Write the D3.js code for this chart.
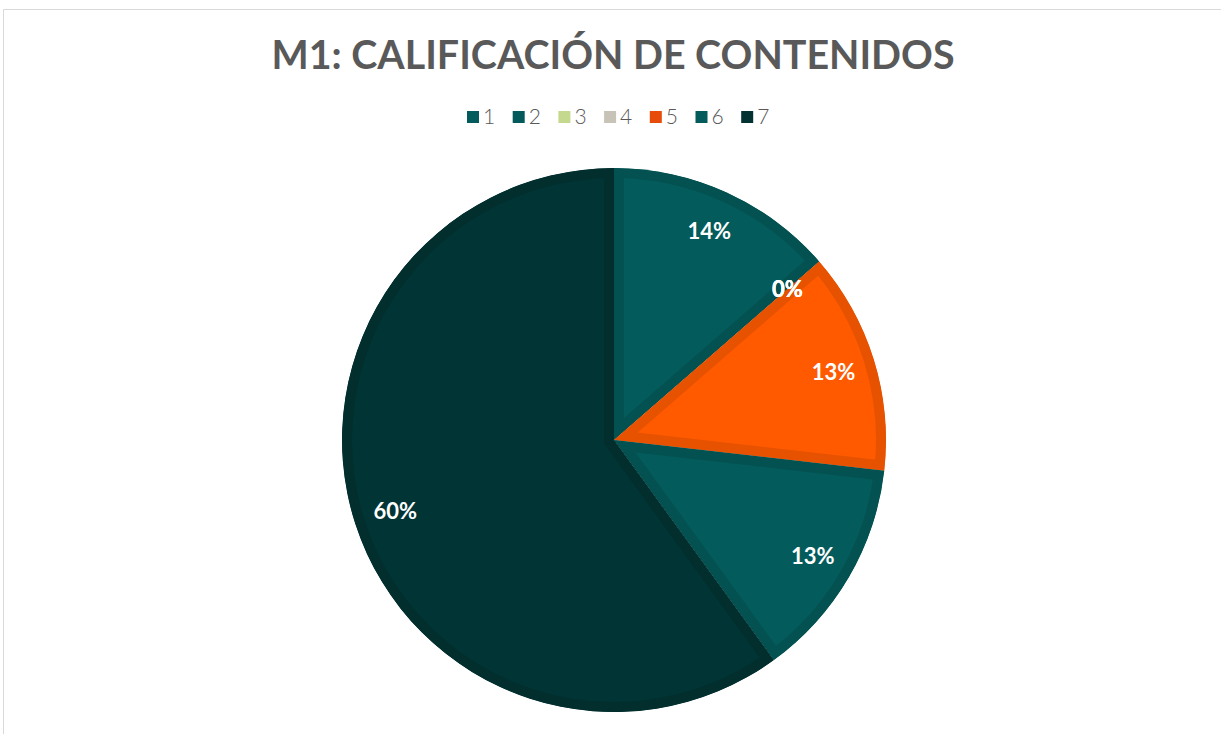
<!DOCTYPE html>
<html>
<head>
<meta charset="utf-8">
<script src="https://cdn.jsdelivr.net/npm/d3@7"></script>
<style>
  body { margin: 0; background: #fff; }
</style>
</head>
<body>
<div id="content"></div>
<script>
// datos
var categorias = ["1", "2", "3", "4", "5", "6", "7"];
var porcentajes = [13.6, 0, 0, 0, 13.2, 13.2, 60.0];
var etiquetas = ["14%", "0%", "0%", "0%", "13%", "13%", "60%"];
var titulo = "M1: CALIFICACIÓN DE CONTENIDOS";

var colores = ["#035b5b", "#045a5a", "#c5d98e", "#c8c3b7", "#ff5a00", "#035b5b", "#013434"];
var bordes = ["#045151", "#045151", "#b5c87f", "#b8b3a7", "#e65200", "#045151", "#022e2e"];
var coloresLeyenda = ["#035b5b", "#045a5a", "#c5d98e", "#c8c3b7", "#e84c0b", "#035b5b", "#023232"];

// dimensiones
var width = 1221;
var height = 734;
var cx = 614, cy = 440, radio = 272;

var svg = d3.select("#content")
  .append("svg")
  .attr("width", width)
  .attr("height", height);

// marco
svg.append("path")
  .attr("d", "M3.5," + height + "V9.5H" + width)
  .attr("fill", "none")
  .attr("stroke", "#d9d9d9")
  .attr("stroke-width", 1);

// titulo
svg.append("text")
  .attr("x", 613)
  .attr("y", 69)
  .attr("text-anchor", "middle")
  .attr("textLength", 683)
  .attr("lengthAdjust", "spacingAndGlyphs")
  .style("font-family", "Lato, sans-serif")
  .style("font-weight", "bold")
  .style("font-size", "41px")
  .style("fill", "#595959")
  .text(titulo);

// leyenda
var leyenda = svg.append("g")
  .selectAll("g")
  .data(categorias)
  .enter().append("g")
  .attr("transform", function(d, i) {
    return "translate(" + (467 + i * 45.7) + ",111)";
  });

leyenda.append("rect")
  .attr("width", 12)
  .attr("height", 12)
  .attr("fill", function(d, i) { return coloresLeyenda[i]; });

leyenda.append("text")
  .attr("x", 16)
  .attr("y", 13)
  .style("font-family", "Lato, sans-serif")
  .style("font-weight", 300)
  .style("font-size", "21px")
  .style("fill", "#595959")
  .text(function(d) { return d; });

// torta
var pie = d3.pie().sort(null).value(function(d) { return d; });
var arcos = pie(porcentajes);

var arc = d3.arc().innerRadius(0).outerRadius(radio);
var arcEtiqueta = d3.arc().innerRadius(230).outerRadius(230);

var g = svg.append("g")
  .attr("transform", "translate(" + cx + "," + cy + ")");

var defs = svg.append("defs");
defs.selectAll("clipPath")
  .data(arcos)
  .enter().append("clipPath")
  .attr("id", function(d, i) { return "clip" + i; })
  .append("path")
  .attr("d", arc);

// cada trozo con un borde interior mas oscuro
g.selectAll("path.slice")
  .data(arcos)
  .enter().append("path")
  .attr("class", "slice")
  .attr("d", arc)
  .attr("fill", function(d, i) { return colores[i]; })
  .attr("stroke", function(d, i) { return bordes[i]; })
  .attr("stroke-width", 20)
  .attr("stroke-linejoin", "miter")
  .attr("clip-path", function(d, i) { return "url(#clip" + i + ")"; });

// etiquetas
g.selectAll("text.lbl")
  .data(arcos)
  .enter().append("text")
  .attr("class", "lbl")
  .attr("transform", function(d) {
    var c = arcEtiqueta.centroid(d);
    return "translate(" + c[0] + "," + c[1] + ")";
  })
  .attr("text-anchor", "middle")
  .attr("dy", "0.36em")
  .style("font-family", "Lato, sans-serif")
  .style("font-weight", "bold")
  .style("font-size", "22px")
  .style("fill", "#ffffff")
  .text(function(d, i) { return etiquetas[i]; });
</script>
</body>
</html>
